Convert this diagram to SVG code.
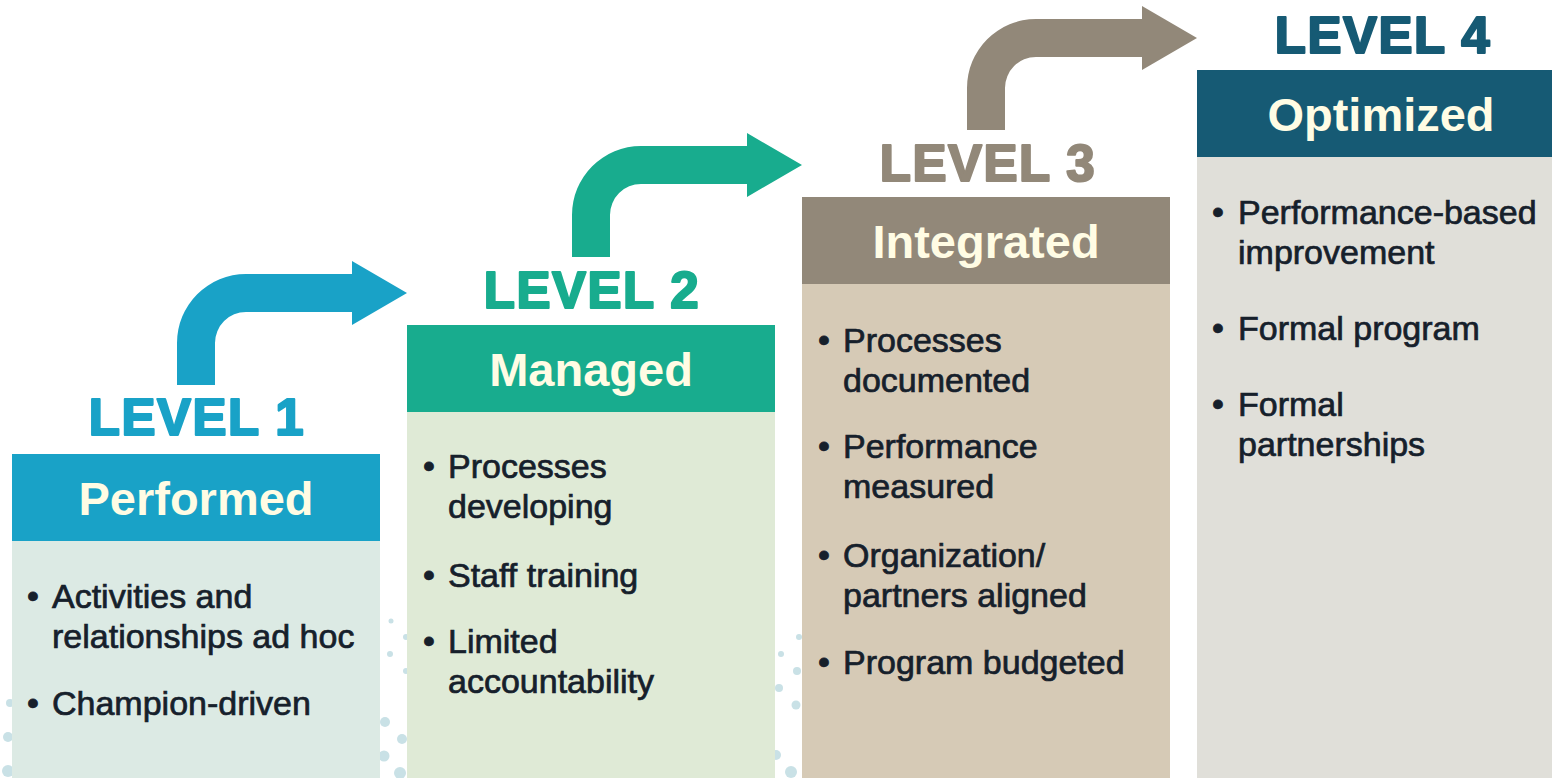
<svg xmlns="http://www.w3.org/2000/svg" width="1552" height="778" viewBox="0 0 1552 778">
<style>
.lvl{font-family:"Liberation Sans",Arial,sans-serif;font-weight:bold;font-size:51px;text-anchor:middle;letter-spacing:1.5px;stroke-width:2.2px;stroke-linejoin:round}
.ttl{font-family:"Liberation Sans",Arial,sans-serif;font-weight:bold;font-size:47px;text-anchor:middle;fill:#FFFCE4}
.txt{font-family:"Liberation Sans",Arial,sans-serif;font-size:34px;fill:#16202B;stroke:#16202B;stroke-width:0.7px}
.dot{fill:#C9E1E6}
</style>
<rect width="1552" height="778" fill="#FFFFFF"/>
<g id="dots">
<circle class="dot" cx="10" cy="703" r="4"/>
<circle class="dot" cx="8" cy="737" r="5"/>
<circle class="dot" cx="8" cy="771" r="6"/>
<circle class="dot" cx="391" cy="621" r="2.5"/>
<circle class="dot" cx="406" cy="637" r="3"/>
<circle class="dot" cx="390" cy="654" r="3"/>
<circle class="dot" cx="406" cy="671" r="3"/>
<circle class="dot" cx="385" cy="722" r="5"/>
<circle class="dot" cx="402" cy="739" r="5"/>
<circle class="dot" cx="384" cy="756" r="5.5"/>
<circle class="dot" cx="400" cy="773" r="6"/>
<circle class="dot" cx="799" cy="637" r="3"/>
<circle class="dot" cx="781" cy="654" r="3"/>
<circle class="dot" cx="797" cy="671" r="4"/>
<circle class="dot" cx="779" cy="688" r="4"/>
<circle class="dot" cx="796" cy="705" r="4.5"/>
<circle class="dot" cx="776" cy="755" r="5"/>
<circle class="dot" cx="791" cy="772" r="6"/>
</g>
<g id="level1">
<text class="lvl" x="197" y="435" fill="#19A2C7" stroke="#19A2C7">LEVEL 1</text>
<rect x="12" y="454" width="368" height="87" fill="#19A2C7"/>
<rect x="12" y="541" width="368" height="237" fill="#DCEAE4"/>
<text class="ttl" x="196" y="515">Performed</text>
<text class="txt" x="27" y="608">•</text>
<text class="txt" x="52" y="608">Activities and</text>
<text class="txt" x="52" y="648">relationships ad hoc</text>
<text class="txt" x="27" y="715">•</text>
<text class="txt" x="52" y="715">Champion-driven</text>
</g>
<g id="level2">
<text class="lvl" x="592" y="308" fill="#18AC8E" stroke="#18AC8E">LEVEL 2</text>
<rect x="407" y="325" width="368" height="87" fill="#18AC8E"/>
<rect x="407" y="412" width="368" height="366" fill="#DFEAD6"/>
<text class="ttl" x="591" y="386">Managed</text>
<text class="txt" x="423" y="478">•</text>
<text class="txt" x="448" y="478">Processes</text>
<text class="txt" x="448" y="518">developing</text>
<text class="txt" x="423" y="587">•</text>
<text class="txt" x="448" y="587">Staff training</text>
<text class="txt" x="423" y="653">•</text>
<text class="txt" x="448" y="653">Limited</text>
<text class="txt" x="448" y="693">accountability</text>
</g>
<g id="level3">
<text class="lvl" x="988" y="181" fill="#928879" stroke="#928879">LEVEL 3</text>
<rect x="802" y="197" width="368" height="87" fill="#928879"/>
<rect x="802" y="284" width="368" height="494" fill="#D6CAB6"/>
<text class="ttl" x="986" y="258">Integrated</text>
<text class="txt" x="818" y="352">•</text>
<text class="txt" x="843" y="352">Processes</text>
<text class="txt" x="843" y="392">documented</text>
<text class="txt" x="818" y="458">•</text>
<text class="txt" x="843" y="458">Performance</text>
<text class="txt" x="843" y="498">measured</text>
<text class="txt" x="818" y="567">•</text>
<text class="txt" x="843" y="567">Organization/</text>
<text class="txt" x="843" y="607">partners aligned</text>
<text class="txt" x="818" y="674">•</text>
<text class="txt" x="843" y="674">Program budgeted</text>
</g>
<g id="level4">
<text class="lvl" x="1383" y="53" fill="#165A74" stroke="#165A74">LEVEL 4</text>
<rect x="1197" y="70" width="368" height="87" fill="#165A74"/>
<rect x="1197" y="157" width="368" height="621" fill="#E0DFD9"/>
<text class="ttl" x="1381" y="131">Optimized</text>
<text class="txt" x="1212" y="224">•</text>
<text class="txt" x="1238" y="224">Performance-based</text>
<text class="txt" x="1238" y="264">improvement</text>
<text class="txt" x="1212" y="340">•</text>
<text class="txt" x="1238" y="340">Formal program</text>
<text class="txt" x="1212" y="416">•</text>
<text class="txt" x="1238" y="416">Formal</text>
<text class="txt" x="1238" y="456">partnerships</text>
</g>
<g id="connectors">
<path d="M177 385 L177 343 A69 69 0 0 1 246 274 L352 274 L352 261 L407 293 L352 325 L352 312 L246 312 A31 31 0 0 0 215 343 L215 385 Z" fill="#19A2C7"/>
<path d="M572 257 L572 215 A69 69 0 0 1 641 146 L747 146 L747 133 L802 165 L747 197 L747 184 L641 184 A31 31 0 0 0 610 215 L610 257 Z" fill="#18AC8E"/>
<path d="M967 130 L967 88 A69 69 0 0 1 1036 19 L1142 19 L1142 6 L1197 38 L1142 70 L1142 57 L1036 57 A31 31 0 0 0 1005 88 L1005 130 Z" fill="#928879"/>
</g>
</svg>
